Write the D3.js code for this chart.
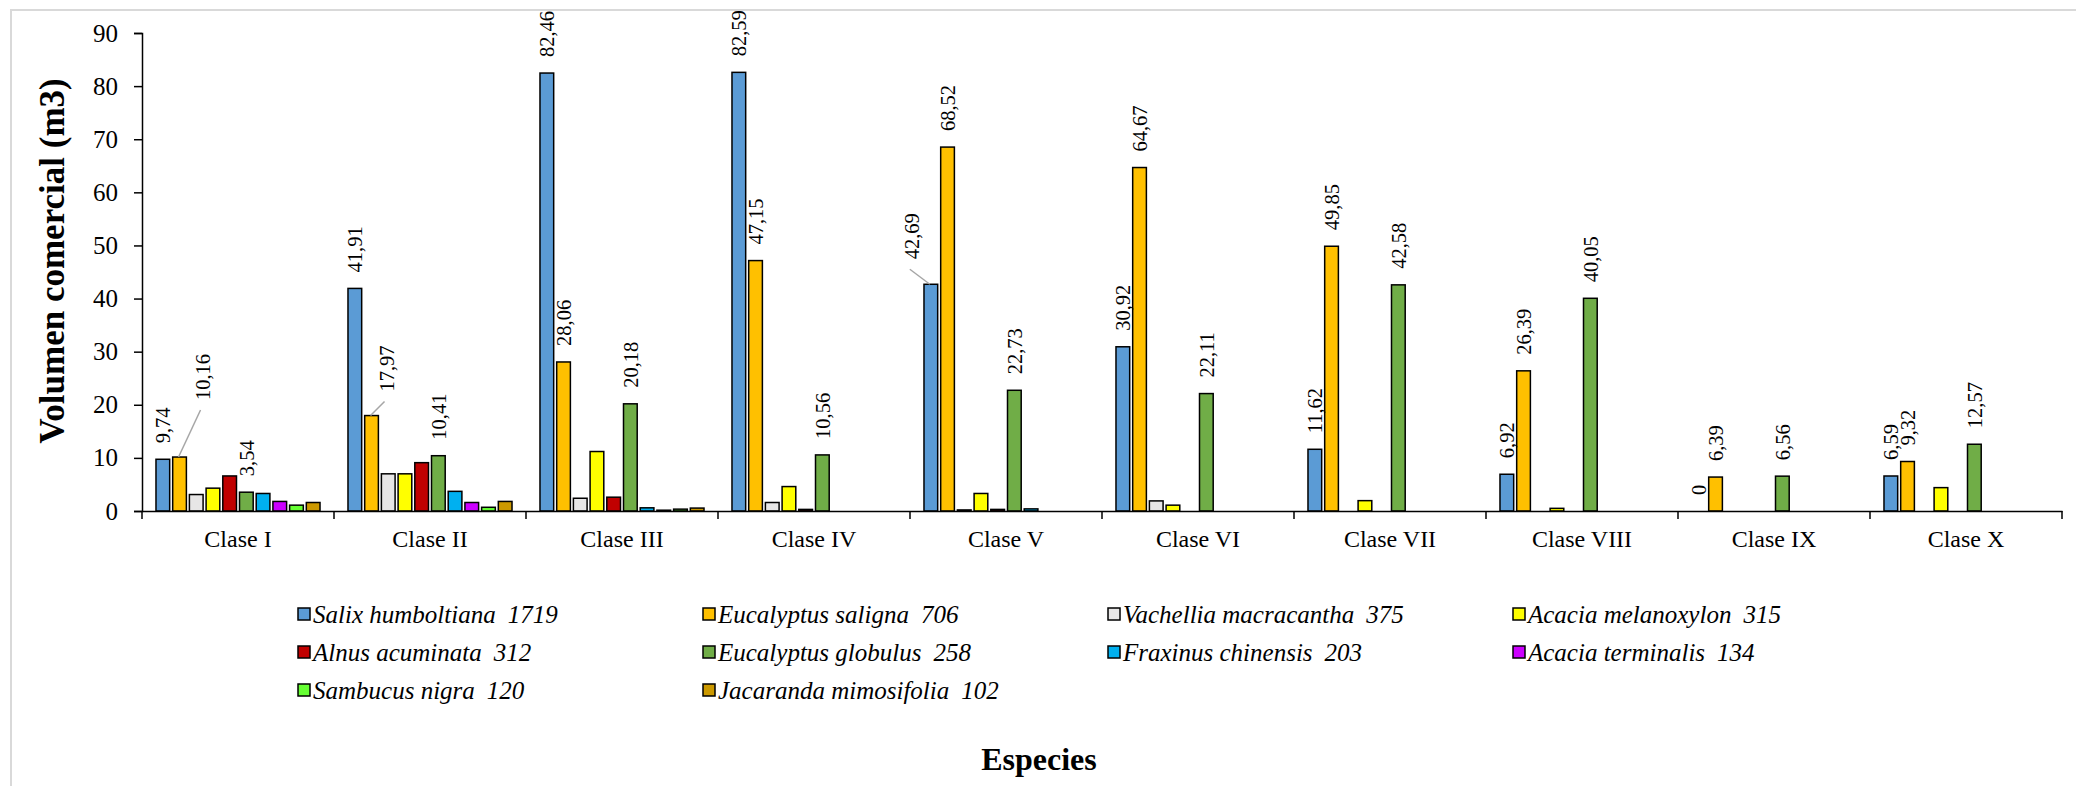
<!DOCTYPE html>
<html>
<head>
<meta charset="utf-8">
<script src="https://cdn.jsdelivr.net/npm/d3@7"></script>
<style>
  html, body { margin: 0; padding: 0; background: #fff; }
</style>
</head>
<body>
<svg id="chart" width="2076" height="786"></svg>
<script>
// ---- data ----
const classes = ["Clase I", "Clase II", "Clase III", "Clase IV", "Clase V", "Clase VI", "Clase VII", "Clase VIII", "Clase IX", "Clase X"];
const speciesNames = ["Salix humboltiana", "Eucalyptus saligna", "Vachellia macracantha", "Acacia melanoxylon", "Alnus acuminata", "Eucalyptus globulus", "Fraxinus chinensis", "Acacia terminalis", "Sambucus nigra", "Jacaranda mimosifolia"];
const speciesCounts = [1719, 706, 375, 315, 312, 258, 203, 134, 120, 102];
const speciesColors = ["#5B9BD5", "#FFC000", "#E7E6E6", "#FFFF00", "#C00000", "#70AD47", "#00B0F0", "#CC00FF", "#66FF33", "#CC9900"];

const salix      = [9.74, 41.91, 82.46, 82.59, 42.69, 30.92, 11.62, 6.92, 0, 6.59];
const saligna    = [10.16, 17.97, 28.06, 47.15, 68.52, 64.67, 49.85, 26.39, 6.39, 9.32];
const vachellia  = [3.1, 7.0, 2.4, 1.6, 0.2, 1.9, 0, 0, 0, 0];
const acaciaMel  = [4.3, 7.0, 11.2, 4.6, 3.3, 1.1, 1.95, 0.5, 0, 4.4];
const alnus      = [6.6, 9.1, 2.6, 0.3, 0.3, 0, 0, 0, 0, 0];
const globulus   = [3.54, 10.41, 20.18, 10.56, 22.73, 22.11, 42.58, 40.05, 6.56, 12.57];
const fraxinus   = [3.3, 3.7, 0.6, 0, 0.4, 0, 0, 0, 0, 0];
const acaciaTerm = [1.8, 1.6, 0.15, 0, 0, 0, 0, 0, 0, 0];
const sambucus   = [1.1, 0.7, 0.35, 0, 0, 0, 0, 0, 0, 0];
const jacaranda  = [1.6, 1.8, 0.55, 0, 0, 0, 0, 0, 0, 0];
const seriesValues = [salix, saligna, vachellia, acaciaMel, alnus, globulus, fraxinus, acaciaTerm, sambucus, jacaranda];

const yTicks = [0, 10, 20, 30, 40, 50, 60, 70, 80, 90];
const labeledSeries = [0, 1, 5];      // series whose values are printed
// labels moved aside with a leader line: [class index, series index, dx, dy]
const leaderLabels = [[0, 1, 23, -41], [1, 1, 15, -8], [4, 0, -19, -9]];

// ---- layout ----
const SERIF = "'Liberation Serif', 'Times New Roman', serif";
const svg = d3.select("#chart");
const plotLeft = 142, plotRight = 2062, plotTop = 33, plotBottom = 511;

svg.append("rect").attr("x", 11).attr("y", 10).attr("width", 2200).attr("height", 900)
  .attr("fill", "#fff").attr("stroke", "#d9d9d9").attr("stroke-width", 2);

const x0 = d3.scaleBand().domain(classes).range([plotLeft, plotRight]).paddingInner(0.13).paddingOuter(0.065);
const x1 = d3.scaleBand().domain(d3.range(speciesNames.length)).range([0, x0.bandwidth()]).paddingInner(0.18).paddingOuter(0.09);
const y = d3.scaleLinear().domain([0, 90]).range([plotBottom, plotTop]);

// bars
const data = [];
classes.forEach((c, ci) => seriesValues.forEach((vals, si) => data.push({c, ci, si, v: vals[ci]})));

svg.append("g").selectAll("rect").data(data.filter(d => d.v > 0)).join("rect")
  .attr("x", d => x0(d.c) + x1(d.si))
  .attr("y", d => y(d.v))
  .attr("width", x1.bandwidth())
  .attr("height", d => y(0) - y(d.v))
  .attr("fill", d => speciesColors[d.si])
  .attr("stroke", "#000").attr("stroke-width", 1.5);

// y axis
const yAxis = svg.append("g").attr("transform", `translate(${plotLeft},0)`)
  .call(d3.axisLeft(y).tickValues(yTicks).tickSize(8).tickPadding(16).tickFormat(d3.format("d")));
yAxis.select(".domain").attr("stroke", "#000").attr("stroke-width", 1.5);
yAxis.selectAll(".tick line").attr("stroke", "#000").attr("stroke-width", 1.5);
yAxis.selectAll("text").attr("font-size", 25).attr("fill", "#000").style("font-family", SERIF);

// x axis
const xAxis = svg.append("g").attr("transform", `translate(0,${plotBottom})`)
  .call(d3.axisBottom(x0).tickSize(0).tickPadding(19));
xAxis.select(".domain").attr("stroke", "#000").attr("stroke-width", 1.5);
xAxis.selectAll("text").attr("font-size", 24).attr("fill", "#000").style("font-family", SERIF);
const bounds = classes.map(c => x0(c) - x0.step() * x0.paddingInner() / 2).concat([plotRight]);
svg.append("g").selectAll("line").data(bounds).join("line")
  .attr("x1", d => d).attr("x2", d => d)
  .attr("y1", plotBottom).attr("y2", plotBottom + 8)
  .attr("stroke", "#000").attr("stroke-width", 1.5);

// value labels
const fmt = v => String(v).replace(".", ",");
const labelData = data.filter(d => labeledSeries.includes(d.si));
const lg = svg.append("g");
labelData.forEach(d => {
  const cx = x0(d.c) + x1(d.si) + x1.bandwidth() / 2;
  const ty = y(d.v);
  const ll = leaderLabels.find(l => l[0] === d.ci && l[1] === d.si);
  let lx = cx, ly = ty - 16;
  if (ll) {
    lx = cx + ll[2]; ly = ty - 16 + ll[3];
    lg.append("line")
      .attr("x1", lx - 2).attr("y1", ly + 10)
      .attr("x2", cx - 1).attr("y2", ty)
      .attr("stroke", "#a6a6a6").attr("stroke-width", 1.5);
  }
  lg.append("text")
    .attr("transform", `translate(${lx},${ly}) rotate(-90)`)
    .attr("dy", "0.35em")
    .style("font-family", SERIF)
    .attr("font-size", 20.5)
    .attr("fill", "#000")
    .text(fmt(d.v));
});

// axis titles
svg.append("text")
  .attr("transform", `translate(52,261) rotate(-90)`)
  .attr("text-anchor", "middle").attr("dy", "0.35em")
  .style("font-family", SERIF)
  .attr("font-size", 35).attr("font-weight", "bold")
  .text("Volumen comercial (m3)");

svg.append("text")
  .attr("x", 1039).attr("y", 770)
  .attr("text-anchor", "middle")
  .style("font-family", SERIF)
  .attr("font-size", 32).attr("font-weight", "bold")
  .text("Especies");

// legend
const legend = svg.append("g");
speciesNames.forEach((name, i) => {
  const col = i % 4, row = Math.floor(i / 4);
  const lx = 298 + col * 405, ly = 614 + row * 38;
  legend.append("rect").attr("x", lx).attr("y", ly - 6).attr("width", 12).attr("height", 12)
    .attr("fill", speciesColors[i]).attr("stroke", "#000").attr("stroke-width", 1.5);
  const t = legend.append("text")
    .attr("x", lx + 15).attr("y", ly)
    .attr("dy", "0.35em")
    .style("font-family", SERIF)
    .style("font-style", "italic")
    .attr("font-size", 25);
  t.append("tspan").text(name);
  t.append("tspan").attr("dx", 12).text(speciesCounts[i]);
});
</script>
</body>
</html>
